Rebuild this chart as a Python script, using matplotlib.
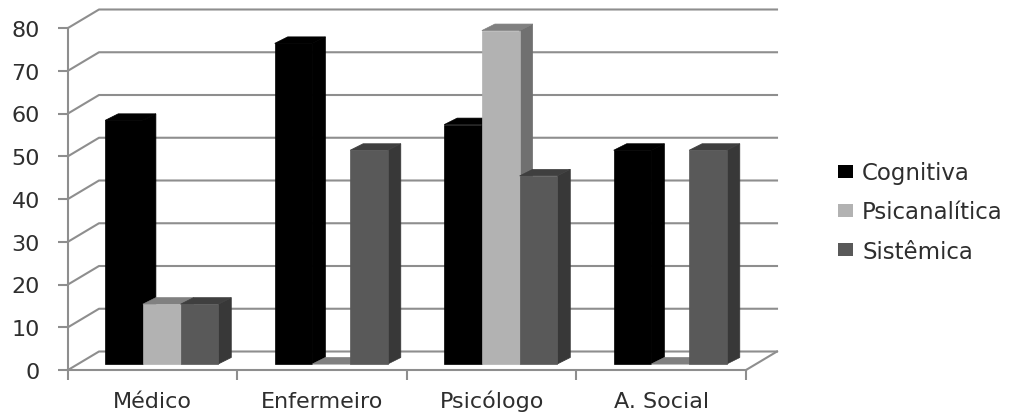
import matplotlib
matplotlib.use("Agg")
import matplotlib.pyplot as plt
from matplotlib.patches import Patch

# ── data ─────────────────────────────────────────────────────────
CATEGORIES = ['Médico', 'Enfermeiro', 'Psicólogo', 'A. Social']
COGNITIVA = [57, 75, 56, 50]
PSICANALITICA = [14, 0, 78, 0]
SISTEMICA = [14, 50, 44, 50]
YTICKS = [0, 10, 20, 30, 40, 50, 60, 70, 80]

SERIES = [
    ('Cognitiva', COGNITIVA, '#000000', '#000000', '#000000'),
    ('Psicanalítica', PSICANALITICA, '#b2b2b2', '#808080', '#707070'),
    ('Sistêmica', SISTEMICA, '#595959', '#3f3f3f', '#383838'),
]

# ── oblique projection, in axis units ────────────────────────────
W, H = 1012, 414
LEFT, RIGHT, TOP, BOTTOM = 68, 746, 29, 371
XPX = (RIGHT - LEFT) / len(CATEGORIES)
YPX = (BOTTOM - TOP) / YTICKS[-1]

WALL_DX, WALL_DY = 31 / XPX, 18.5 / YPX      # floor depth
BAR_DX, BAR_DY = 13 / XPX, 6.5 / YPX         # bar depth
BAR_W = 37.7 / XPX
GROUP_SHIFT = 9 / XPX
BASE = 6 / YPX

GRID = '#8e8e8e'
TEXT = '#2e2e2e'

plt.rcParams['font.family'] = ['DejaVu Sans']

fig = plt.figure(figsize=(W / 100, H / 100), dpi=100)
ax = fig.add_axes([LEFT / W, 1 - BOTTOM / H, (RIGHT - LEFT) / W, (BOTTOM - TOP) / H])
ax.set_xlim(0, len(CATEGORIES))
ax.set_ylim(0, YTICKS[-1])

# back wall and floor
for v in YTICKS:
    ax.plot([0, WALL_DX, len(CATEGORIES) + WALL_DX], [v, v + WALL_DY, v + WALL_DY],
            color=GRID, lw=1.5, clip_on=False, zorder=1)
ax.plot([len(CATEGORIES), len(CATEGORIES) + WALL_DX], [0, WALL_DY],
        color=GRID, lw=1.5, clip_on=False, zorder=1)

# bars, left to right so each one covers its neighbour's side
z = 2
for i in range(len(CATEGORIES)):
    for j, (name, vals, face, top, side) in enumerate(SERIES):
        v = vals[i]
        x0 = i + 0.5 + GROUP_SHIFT + (j - 1.5) * BAR_W
        x1 = x0 + BAR_W
        y0 = BASE
        y1 = BASE + v
        ax.fill([x1, x1 + BAR_DX, x1 + BAR_DX, x1],
                [y0, y0 + BAR_DY, y1 + BAR_DY, y1],
                facecolor=side, edgecolor=side, lw=0.5, clip_on=False, zorder=z)
        ax.fill([x0, x0 + BAR_DX, x1 + BAR_DX, x1],
                [y1, y1 + BAR_DY, y1 + BAR_DY, y1],
                facecolor=top, edgecolor=top, lw=0.5, clip_on=False, zorder=z)
        ax.bar(x0, v, width=BAR_W, bottom=BASE, align='edge', color=face,
               edgecolor=face, lw=0.5, clip_on=False, zorder=z)
        z += 1

# axes
for s in ['top', 'right']:
    ax.spines[s].set_visible(False)
for s in ['left', 'bottom']:
    ax.spines[s].set_color(GRID)
    ax.spines[s].set_linewidth(1.5)
    ax.spines[s].set_zorder(1)
ax.set_yticks(YTICKS)
ax.set_xticks(range(len(CATEGORIES) + 1))
ax.set_xticklabels([])
ax.set_xticks([i + 0.5 for i in range(len(CATEGORIES))], minor=True)
ax.set_xticklabels(CATEGORIES, minor=True)
ax.tick_params(axis='both', which='major', color=GRID, width=1.5, length=7.2)
ax.tick_params(axis='x', which='minor', length=0, pad=27, labelsize=16, labelcolor=TEXT)
ax.tick_params(axis='y', labelsize=16, labelcolor=TEXT, pad=13)
for lab in ax.get_xticklabels(minor=True):
    lab.set_verticalalignment('baseline')

handles = [Patch(facecolor=s[2], edgecolor='none', label=s[0]) for s in SERIES]
fig.legend(handles=handles, loc='center left', bbox_to_anchor=(838 / W, 1 - 213 / H),
           frameon=False, fontsize=16.5, labelcolor=TEXT, handlelength=0.65, handleheight=0.5,
           handletextpad=0.4, labelspacing=0.7, borderpad=0, borderaxespad=0)

fig.savefig("out.png", dpi=100)
